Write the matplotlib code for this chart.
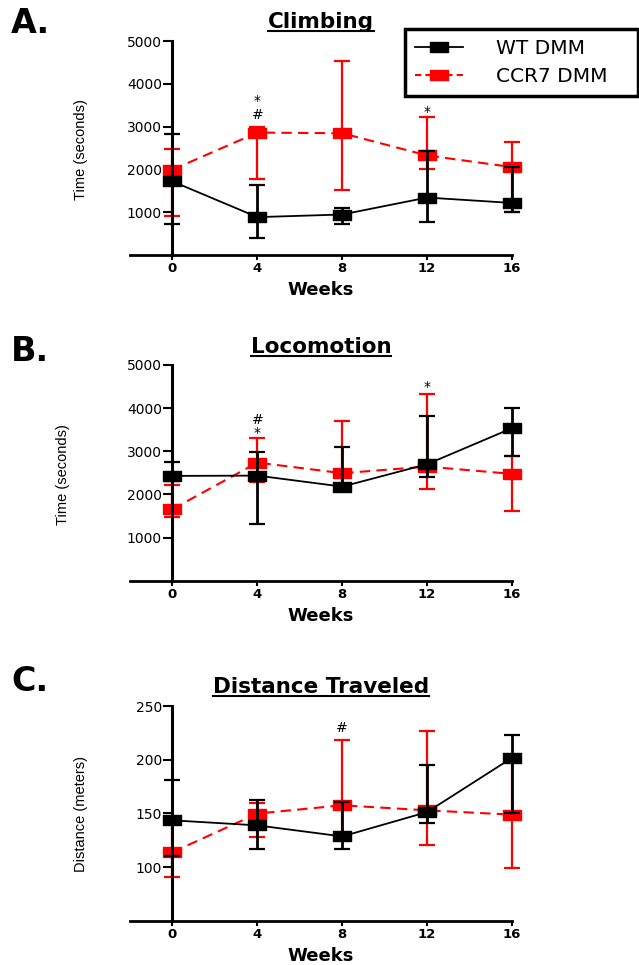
import matplotlib
matplotlib.use("Agg")
import matplotlib.pyplot as plt
from matplotlib.path import Path
from matplotlib.lines import Line2D

# data (means and the error bar ends)
weeks = [0, 4, 8, 12, 16]
week_ticks = ["0", "4", "8", "12", "16"]

climb_wt = [1720, 885, 946, 1342, 1216]
climb_wt_hi = [2830, 1630, 1108, 2426, 2054]
climb_wt_lo = [720, 400, 721, 760, 993]
climb_ccr7 = [1993, 2860, 2845, 2326, 2054]
climb_ccr7_hi = [2465, 2980, 4535, 3217, 2636]
climb_ccr7_lo = [907, 1765, 1512, 2000, 993]
climb_marks = [(4, 3186, "*\n#"), (12, 3256, "*")]

loco_wt = [2429, 2436, 2181, 2700, 3536]
loco_wt_hi = [2747, 2979, 3102, 3821, 4014]
loco_wt_lo = [2300, 1309, 2150, 2413, 2893]
loco_ccr7 = [1657, 2738, 2492, 2645, 2476]
loco_ccr7_hi = [2220, 3304, 3712, 4332, 2893]
loco_ccr7_lo = [1485, 2283, 2250, 2128, 1624]
loco_marks = [(4, 3327, "#\n*"), (12, 4394, "*")]

dist_wt = [143.5, 138.8, 128.5, 151.2, 201.7]
dist_wt_hi = [181.5, 162.1, 160.6, 195.5, 222.9]
dist_wt_lo = [110, 117, 116.4, 141, 150]
dist_ccr7 = [113.8, 149.8, 157.5, 152.8, 148.8]
dist_ccr7_hi = [142, 160, 218.2, 226.6, 198]
dist_ccr7_lo = [91.1, 127.8, 125.9, 120.7, 99.3]
dist_marks = [(8, 226, "#")]

W, H = 639, 965
fig = plt.figure(figsize=(W / 100, H / 100), dpi=100)


def fx(px):
    return px / W


def fy(py):
    return 1 - py / H


# wide flat square marker (the original image is stretched sideways)
box = Path([(-1, -0.58), (1, -0.58), (1, 0.58), (-1, 0.58), (-1, -0.58)],
           [Path.MOVETO, Path.LINETO, Path.LINETO, Path.LINETO, Path.CLOSEPOLY])

panels = [
    dict(letter="A.", title="Climbing", ylabel="Time (seconds)",
         wt=(climb_wt, climb_wt_hi, climb_wt_lo),
         ccr=(climb_ccr7, climb_ccr7_hi, climb_ccr7_lo),
         marks=climb_marks, ylim=(0, 5000), yticks=[1000, 2000, 3000, 4000, 5000],
         top=41, bottom=255, letter_bl=33, title_bl=28, ylab=(81, 150), xlab_y=290),
    dict(letter="B.", title="Locomotion", ylabel="Time (seconds)",
         wt=(loco_wt, loco_wt_hi, loco_wt_lo),
         ccr=(loco_ccr7, loco_ccr7_hi, loco_ccr7_lo),
         marks=loco_marks, ylim=(0, 5000), yticks=[1000, 2000, 3000, 4000, 5000],
         top=365, bottom=580.7, letter_bl=361, title_bl=353, ylab=(63.5, 475), xlab_y=615.7),
    dict(letter="C.", title="Distance Traveled", ylabel="Distance (meters)",
         wt=(dist_wt, dist_wt_hi, dist_wt_lo),
         ccr=(dist_ccr7, dist_ccr7_hi, dist_ccr7_lo),
         marks=dist_marks, ylim=(50, 250), yticks=[100, 150, 200, 250],
         top=706, bottom=920.7, letter_bl=691, title_bl=693, ylab=(81.5, 814), xlab_y=956),
]

titles = []
for p in panels:
    ax = fig.add_axes([fx(130), fy(p["bottom"]), fx(512) - fx(130),
                       (p["bottom"] - p["top"]) / H])

    for (mean, hi, lo), color, ls, z, elw in [
        (p["ccr"], "#ff0000", (0, (5, 3)), 3, 1.6),
        (p["wt"], "black", "-", 4, 2.0),
    ]:
        yerr = [[m - l for m, l in zip(mean, lo)], [h - m for m, h in zip(mean, hi)]]
        eb = ax.errorbar(weeks, mean, yerr=yerr, fmt="none", ecolor=color,
                         elinewidth=elw, capsize=5.5, capthick=1.6, zorder=z)
        for part in eb.lines:
            if part is None:
                continue
            for a in (part if isinstance(part, tuple) else (part,)):
                a.set_clip_on(False)
        ax.plot(weeks, mean, color=color, ls=ls, lw=1.3 if color == "black" else 1.5,
                marker=box, ms=13, mfc=color, mec=color, zorder=z, clip_on=False)

    for wk, yv, sym in p["marks"]:
        ax.text(wk, yv, sym, ha="center", va="baseline", fontsize=10,
                linespacing=0.95)

    ax.set_xlim(-2, 16)
    ax.set_ylim(*p["ylim"])
    ax.set_xticks(weeks)
    ax.set_xticklabels(week_ticks)
    ax.set_yticks(p["yticks"])
    for lab in ax.get_xticklabels() + ax.get_yticklabels():
        lab.set_fontweight("bold")
        lab.set_fontsize(9.5)

    ax.spines["top"].set_visible(False)
    ax.spines["right"].set_visible(False)
    ax.spines["left"].set_position(("data", 0))
    ax.spines["left"].set_linewidth(2.2)
    ax.spines["bottom"].set_linewidth(2.0)
    ax.spines["left"].set_zorder(6)
    ax.tick_params(axis="y", length=6.5, width=1.5, pad=1)
    ax.tick_params(axis="x", length=3.6, width=1.5, pad=1.5)
    ax.patch.set_visible(False)

    fig.text(fx(11), fy(p["letter_bl"]), p["letter"], fontsize=24,
             fontweight="bold", va="baseline", ha="left")
    t = fig.text(fx(321), fy(p["title_bl"]), p["title"], fontsize=15.5,
                 fontweight="bold", va="baseline", ha="center")
    titles.append((t, p["title_bl"]))
    fig.text(fx(p["ylab"][0]), fy(p["ylab"][1]), p["ylabel"], rotation=90,
             ha="center", va="center", fontsize=10.5, family="Liberation Sans")
    fig.text(fx(321), fy(p["xlab_y"]), "Weeks", fontsize=13,
             fontweight="bold", ha="center", va="center")

handles = [
    Line2D([], [], color="black", lw=1.3, marker=box, ms=13, mfc="black", mec="black"),
    Line2D([], [], color="#ff0000", lw=1.5, ls=(0, (3, 2)), marker=box, ms=13,
           mfc="#ff0000", mec="#ff0000"),
]
leg = fig.legend(handles, ["WT DMM", "CCR7 DMM"], loc="upper left",
                 bbox_to_anchor=(fx(405), fy(30), fx(638) - fx(405), 0.001),
                 mode="expand", borderaxespad=0,
                 frameon=True, fancybox=False, edgecolor="black", framealpha=1,
                 borderpad=0.5, handlelength=2.4, handletextpad=1.6,
                 labelspacing=0.45, prop=dict(size=14.5))
leg.get_frame().set_linewidth(2.5)

# underline the panel titles
fig.canvas.draw()
for t, bl in titles:
    bb = t.get_window_extent()
    fig.add_artist(Line2D([bb.x0 / W, bb.x1 / W], [fy(bl + 3)] * 2,
                          transform=fig.transFigure, color="black", lw=1.5))

fig.savefig("out.png", dpi=100)
